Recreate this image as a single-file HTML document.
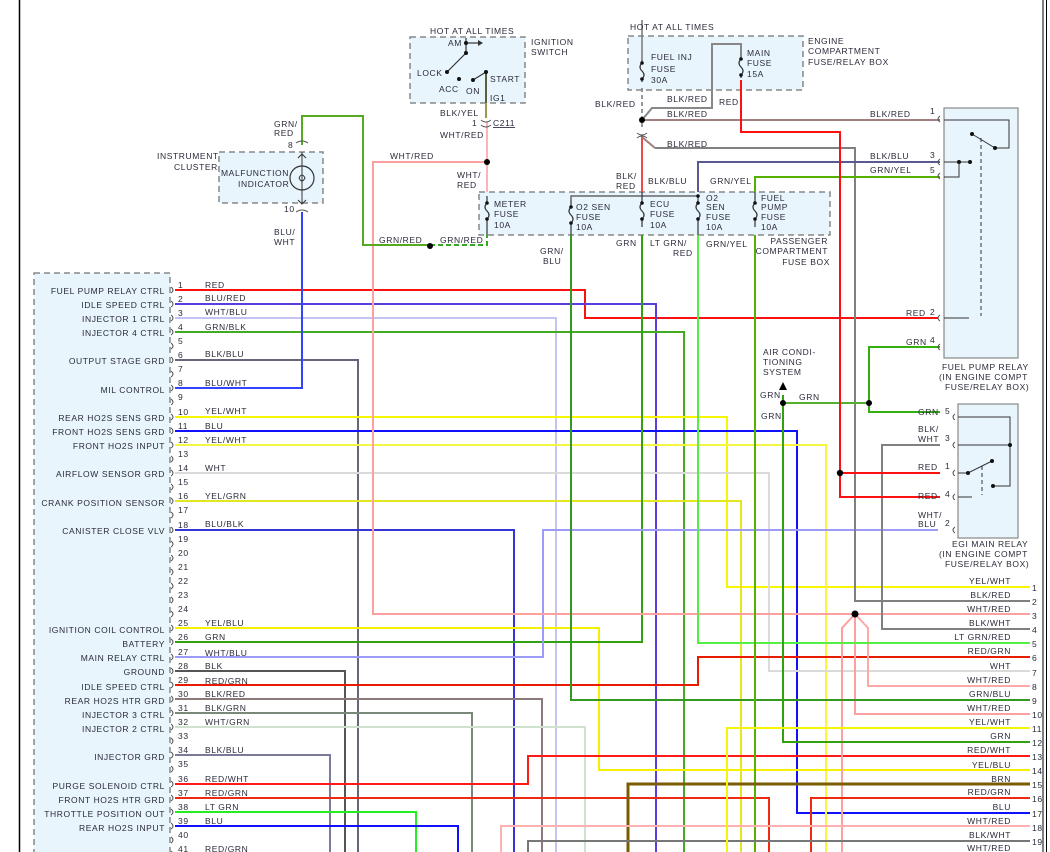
<!DOCTYPE html>
<html><head><meta charset="utf-8"><style>
html,body{margin:0;padding:0;background:#fff;}
svg{display:block;}
text{font-family:"Liberation Sans",sans-serif;font-size:8.5px;fill:#2a2a3a;letter-spacing:0.6px;}
.r{text-anchor:end;}
.box{fill:#e9f5fc;stroke:#888;stroke-width:1.5;stroke-dasharray:6,4;}
.rel{fill:#e9f5fc;stroke:#888;stroke-width:1.2;}
.w{fill:none;stroke-width:2;}
</style></head><body>
<svg width="1050" height="852" viewBox="0 0 1050 852" xmlns="http://www.w3.org/2000/svg">
<rect width="1050" height="852" fill="#fff"/>
<line x1="19.5" y1="0" x2="19.5" y2="852" stroke="#000" stroke-width="1.5"/>
<line x1="1043" y1="0" x2="1043" y2="852" stroke="#000" stroke-width="1"/>
<line x1="1046.5" y1="0" x2="1046.5" y2="852" stroke="#000" stroke-width="1"/>

<!-- boxes -->
<rect class="box" x="34" y="273" width="136" height="590"/>
<rect class="box" x="410" y="37" width="115" height="66"/>
<rect class="box" x="628" y="36" width="175" height="54"/>
<rect class="box" x="479" y="192" width="351" height="43"/>
<rect class="box" x="219" y="152" width="104" height="51"/>
<rect class="rel" x="944" y="108" width="74" height="250"/>
<rect class="rel" x="958" y="404" width="60" height="134"/>

<!-- wires from ECM -->
<g class="w">
<polyline points="175,290 585,290 585,318 938,318" stroke="#ff1010"/>
<polyline points="175,304 656,304 656,852" stroke="#5a3de0"/>
<polyline points="175,318 556,318 556,852" stroke="#c4c4f4"/>
<polyline points="175,332 684,332 684,852" stroke="#44aa22"/>
<polyline points="175,360 358,360 358,852" stroke="#66667a"/>
<polyline points="175,388 302,388 302,212" stroke="#3344ff"/>
<polyline points="175,417 727,417 727,587 1030,587" stroke="#f6f600"/>
<polyline points="175,431 797,431 797,813 1030,813" stroke="#1010ff"/>
<polyline points="175,445 826,445 826,852" stroke="#f6f640"/>
<polyline points="175,473 769,473 769,671 1030,671" stroke="#dadada"/>
<polyline points="175,501 741,501 741,852" stroke="#e6e620"/>
<polyline points="175,530 514,530 514,852" stroke="#3535d5"/>
<polyline points="175,628 599,628 599,770 1030,770" stroke="#f4f000"/>
<polyline points="175,642 642,642 642,235" stroke="#33a010"/>
<polyline points="175,657 543,657 543,530 938,530" stroke="#9c9cf8"/>
<polyline points="175,671 345,671 345,852" stroke="#555"/>
<polyline points="175,685 698,685 698,657 1030,657" stroke="#e81a00"/>
<polyline points="175,699 542,699 542,852" stroke="#8a7a7a"/>
<polyline points="175,713 472,713 472,852" stroke="#7a887a"/>
<polyline points="175,727 585,727 585,852" stroke="#cfe2cf"/>
<polyline points="175,755 330,755 330,852" stroke="#7a7a9a"/>
<polyline points="175,784 528,784 528,756 1030,756" stroke="#ff1a1a"/>
<polyline points="175,798 769,798 769,852" stroke="#ee2a10"/>
<polyline points="175,812 416,812 416,852" stroke="#22ee22"/>
<polyline points="175,826 458,826 458,852" stroke="#1010ff"/>

<!-- top / right wires -->
<polyline points="487,122 487,192" stroke="#ffb4b4"/>
<polyline points="486,72 486,118" stroke="#9a9a50"/>
<polyline points="487,162 373,162 373,614 1030,614" stroke="#ffa0a0"/>
<polyline points="855,614 842,628 842,852" stroke="#ffa0a0"/>
<polyline points="855,614 855,714 1030,714" stroke="#ffa0a0"/>
<polyline points="855,614 868,628 868,686 1030,686" stroke="#ffa8a8"/>
<polyline points="655,148 855,148 855,601 1030,601" stroke="#808080"/>
<polyline points="940,445 882,445 882,629 1030,629" stroke="#808080"/>
<polyline points="698,235 698,643 1030,643" stroke="#55ee44"/>
<polyline points="571,235 571,700 1030,700" stroke="#339920"/>
<polyline points="783,395 783,742 1030,742" stroke="#33a010"/>
<polyline points="783,403 869,403" stroke="#55b030"/>
<polyline points="940,347 869,347 869,412 940,412" stroke="#33b010"/>
<polyline points="755,235 755,852" stroke="#55b000"/>
<polyline points="755,192 755,177 940,177" stroke="#55b000"/>
<polyline points="698,192 698,162 940,162" stroke="#5a5a90"/>
<polyline points="571,200 571,196 698,196 698,200" stroke="#666" stroke-width="1.5"/>
<polyline points="642,135 642,192" stroke="#ee4a4a"/>
<polyline points="642,20 642,60" stroke="#777" stroke-width="1.5"/>
<polyline points="642,88 642,128" stroke="#777" stroke-width="1.5" stroke-dasharray="4,3"/>
<polyline points="642,120 940,120" stroke="#a08080"/>
<polyline points="642,120 652,108 712,108 712,44 741,44 741,55" stroke="#888"/>
<polyline points="642,137 655,148" stroke="#a08080"/>
<polyline points="741,80 741,132 840,132 840,497 940,497" stroke="#ff1010"/>
<polyline points="840,473 940,473" stroke="#ff1010"/>
<polyline points="628,852 628,784 1030,784" stroke="#7a5c00" stroke-width="3"/>
<polyline points="811,852 811,798 1030,798" stroke="#ee2a10"/>
<polyline points="501,852 501,826 1030,826" stroke="#ffb0b0"/>
<polyline points="528,852 528,841 1030,841" stroke="#777"/>
<polyline points="727,852 727,728 1030,728" stroke="#f6f600"/>
<polyline points="302,145 302,116 363,116 363,245 430,245" stroke="#55aa22"/>
<polyline points="430,245 487,245 487,235" stroke="#33aa22" stroke-dasharray="5,3"/>
</g>

<!-- dots -->
<g fill="#000">
<circle cx="487" cy="162" r="3"/><circle cx="642" cy="120" r="3"/><circle cx="430" cy="246" r="3"/>
<circle cx="855" cy="614" r="3.5"/><circle cx="840" cy="473" r="3.2"/><circle cx="869" cy="403" r="3"/>
<circle cx="783" cy="403" r="3"/>
</g>
<polygon points="779,390 787,390 783,382" fill="#000"/>

<!-- ECM pins -->
<g fill="none" stroke="#555" stroke-width="1">
<path d="M171,287 q4,3 0,6 M171,301 q4,3 0,6 M171,315 q4,3 0,6 M171,329 q4,3 0,6 M171,343 q4,3 0,6 M171,357 q4,3 0,6 M171,371 q4,3 0,6 M171,385 q4,3 0,6 M171,399 q4,3 0,6 M171,414 q4,3 0,6 M171,428 q4,3 0,6 M171,442 q4,3 0,6 M171,456 q4,3 0,6 M171,470 q4,3 0,6 M171,484 q4,3 0,6 M171,498 q4,3 0,6 M171,512 q4,3 0,6 M171,527 q4,3 0,6 M171,541 q4,3 0,6 M171,555 q4,3 0,6 M171,569 q4,3 0,6 M171,583 q4,3 0,6 M171,597 q4,3 0,6 M171,611 q4,3 0,6 M171,625 q4,3 0,6 M171,639 q4,3 0,6 M171,654 q4,3 0,6 M171,668 q4,3 0,6 M171,682 q4,3 0,6 M171,696 q4,3 0,6 M171,710 q4,3 0,6 M171,724 q4,3 0,6 M171,738 q4,3 0,6 M171,752 q4,3 0,6 M171,766 q4,3 0,6 M171,781 q4,3 0,6 M171,795 q4,3 0,6 M171,809 q4,3 0,6 M171,823 q4,3 0,6 M171,837 q4,3 0,6 M171,851 q4,3 0,6"/>
<path d="M940,116 q-4,3 0,6 M940,159 q-4,3 0,6 M940,173 q-4,3 0,6 M940,315 q-4,3 0,6 M940,344 q-4,3 0,6 M955,414 q-4,3 0,6 M955,442 q-4,3 0,6 M955,470 q-4,3 0,6 M955,494 q-4,3 0,6 M955,527 q-4,3 0,6"/>
<path d="M481,120 q5,4 10,0 M481,125 q5,4 10,0 M637,133 q5,4 10,0 M637,138 q5,-4 10,0 M296,143 q6,-4 12,0 M296,212 q6,-4 12,0"/>
</g>
<g>
<text x="178" y="288">1</text><text x="178" y="302">2</text><text x="178" y="316">3</text><text x="178" y="330">4</text><text x="178" y="344">5</text><text x="178" y="358">6</text><text x="178" y="372">7</text><text x="178" y="386">8</text><text x="178" y="400">9</text><text x="178" y="415">10</text><text x="178" y="429">11</text><text x="178" y="443">12</text><text x="178" y="457">13</text><text x="178" y="471">14</text><text x="178" y="485">15</text><text x="178" y="499">16</text><text x="178" y="513">17</text><text x="178" y="528">18</text><text x="178" y="542">19</text><text x="178" y="556">20</text><text x="178" y="570">21</text><text x="178" y="584">22</text><text x="178" y="598">23</text><text x="178" y="612">24</text><text x="178" y="626">25</text><text x="178" y="640">26</text><text x="178" y="655">27</text><text x="178" y="669">28</text><text x="178" y="683">29</text><text x="178" y="697">30</text><text x="178" y="711">31</text><text x="178" y="725">32</text><text x="178" y="739">33</text><text x="178" y="753">34</text><text x="178" y="767">35</text><text x="178" y="782">36</text><text x="178" y="796">37</text><text x="178" y="810">38</text><text x="178" y="824">39</text><text x="178" y="838">40</text><text x="178" y="852">41</text>
</g>
<g>
<text x="205" y="288">RED</text><text x="205" y="301">BLU/RED</text><text x="205" y="315">WHT/BLU</text><text x="205" y="330">GRN/BLK</text><text x="205" y="357">BLK/BLU</text><text x="205" y="386">BLU/WHT</text><text x="205" y="414">YEL/WHT</text><text x="205" y="429">BLU</text><text x="205" y="443">YEL/WHT</text><text x="205" y="471">WHT</text><text x="205" y="499">YEL/GRN</text><text x="205" y="527">BLU/BLK</text><text x="205" y="626">YEL/BLU</text><text x="205" y="640">GRN</text><text x="205" y="656">WHT/BLU</text><text x="205" y="669">BLK</text><text x="205" y="684">RED/GRN</text><text x="205" y="697">BLK/RED</text><text x="205" y="711">BLK/GRN</text><text x="205" y="725">WHT/GRN</text><text x="205" y="753">BLK/BLU</text><text x="205" y="782">RED/WHT</text><text x="205" y="796">RED/GRN</text><text x="205" y="810">LT GRN</text><text x="205" y="824">BLU</text><text x="205" y="852">RED/GRN</text>
</g>
<g class="r">
<text class="r" x="165" y="294">FUEL PUMP RELAY CTRL</text><text class="r" x="165" y="308">IDLE SPEED CTRL</text><text class="r" x="165" y="322">INJECTOR 1 CTRL</text><text class="r" x="165" y="336">INJECTOR 4 CTRL</text><text class="r" x="165" y="364">OUTPUT STAGE GRD</text><text class="r" x="165" y="393">MIL CONTROL</text><text class="r" x="165" y="421">REAR HO2S SENS GRD</text><text class="r" x="165" y="435">FRONT HO2S SENS GRD</text><text class="r" x="165" y="449">FRONT HO2S INPUT</text><text class="r" x="165" y="477">AIRFLOW SENSOR GRD</text><text class="r" x="165" y="506">CRANK POSITION SENSOR</text><text class="r" x="165" y="534">CANISTER CLOSE VLV</text><text class="r" x="165" y="633">IGNITION COIL CONTROL</text><text class="r" x="165" y="647">BATTERY</text><text class="r" x="165" y="661">MAIN RELAY CTRL</text><text class="r" x="165" y="675">GROUND</text><text class="r" x="165" y="690">IDLE SPEED CTRL</text><text class="r" x="165" y="704">REAR HO2S HTR GRD</text><text class="r" x="165" y="718">INJECTOR 3 CTRL</text><text class="r" x="165" y="732">INJECTOR 2 CTRL</text><text class="r" x="165" y="760">INJECTOR GRD</text><text class="r" x="165" y="789">PURGE SOLENOID CTRL</text><text class="r" x="165" y="803">FRONT HO2S HTR GRD</text><text class="r" x="165" y="817">THROTTLE POSITION OUT</text><text class="r" x="165" y="831">REAR HO2S INPUT</text>
</g>

<!-- right connector -->
<g>
<text class="r" x="1011" y="584">YEL/WHT</text><text class="r" x="1011" y="598">BLK/RED</text><text class="r" x="1011" y="612">WHT/RED</text><text class="r" x="1011" y="626">BLK/WHT</text><text class="r" x="1011" y="640">LT GRN/RED</text><text class="r" x="1011" y="654">RED/GRN</text><text class="r" x="1011" y="669">WHT</text><text class="r" x="1011" y="683">WHT/RED</text><text class="r" x="1011" y="697">GRN/BLU</text><text class="r" x="1011" y="711">WHT/RED</text><text class="r" x="1011" y="725">YEL/WHT</text><text class="r" x="1011" y="739">GRN</text><text class="r" x="1011" y="753">RED/WHT</text><text class="r" x="1011" y="768">YEL/BLU</text><text class="r" x="1011" y="782">BRN</text><text class="r" x="1011" y="795">RED/GRN</text><text class="r" x="1011" y="810">BLU</text><text class="r" x="1011" y="824">WHT/RED</text><text class="r" x="1011" y="838">BLK/WHT</text><text class="r" x="1011" y="851">WHT/RED</text>
<text x="1032" y="591">1</text><text x="1032" y="605">2</text><text x="1032" y="619">3</text><text x="1032" y="633">4</text><text x="1032" y="647">5</text><text x="1032" y="661">6</text><text x="1032" y="676">7</text><text x="1032" y="690">8</text><text x="1032" y="704">9</text><text x="1032" y="718">10</text><text x="1032" y="732">11</text><text x="1032" y="746">12</text><text x="1032" y="760">13</text><text x="1032" y="774">14</text><text x="1032" y="788">15</text><text x="1032" y="802">16</text><text x="1032" y="817">17</text><text x="1032" y="831">18</text><text x="1032" y="845">19</text>
</g>

<!-- ignition switch -->
<g stroke="#333" stroke-width="1.2" fill="none">
<polyline points="466,38 466,53 447,72"/><line x1="466" y1="43" x2="478" y2="43"/>
<line x1="473" y1="80" x2="486" y2="72"/><line x1="486" y1="72" x2="486" y2="103"/>
</g>
<polygon points="478,40 483,43 478,46" fill="#333"/>
<g fill="#111"><circle cx="466" cy="43" r="2"/><circle cx="466" cy="53" r="2"/><circle cx="447" cy="72" r="2"/><circle cx="459" cy="79" r="2"/><circle cx="473" cy="80" r="2"/><circle cx="486" cy="72" r="2"/></g>
<text x="430" y="34">HOT AT ALL TIMES</text><text x="531" y="45">IGNITION</text><text x="531" y="55">SWITCH</text>
<text x="448" y="46">AM</text><text x="417" y="76">LOCK</text><text x="439" y="92">ACC</text><text x="466" y="94">ON</text><text x="490" y="82">START</text><text x="490" y="101">IG1</text>
<text x="440" y="116">BLK/YEL</text><text x="472" y="126">1</text><text x="493" y="126" text-decoration="underline">C211</text><text x="440" y="138">WHT/RED</text>
<text x="390" y="159">WHT/RED</text><text x="457" y="178">WHT/</text><text x="457" y="188">RED</text>

<!-- engine box -->
<text x="630" y="30">HOT AT ALL TIMES</text><text x="808" y="44">ENGINE</text><text x="808" y="54">COMPARTMENT</text><text x="808" y="65">FUSE/RELAY BOX</text>
<text x="651" y="60">FUEL INJ</text><text x="651" y="72">FUSE</text><text x="651" y="83">30A</text>
<text x="747" y="56">MAIN</text><text x="747" y="66">FUSE</text><text x="747" y="77">15A</text>
<text x="595" y="107">BLK/RED</text><text x="667" y="102">BLK/RED</text><text x="719" y="105">RED</text><text x="667" y="117">BLK/RED</text><text x="667" y="147">BLK/RED</text>
<text x="616" y="179">BLK/</text><text x="616" y="189">RED</text><text x="648" y="184">BLK/BLU</text><text x="710" y="184">GRN/YEL</text>

<!-- fuses -->
<g fill="none" stroke="#333" stroke-width="1.2">
<path d="M642,60 v3 q-4,4 0,8 q4,4 0,8 v3 M741,55 v4 q-4,4 0,8 q4,4 0,8 v3 M487,196 v7 q-4,4 0,8 q4,4 0,8 v16 M571,200 v7 q-4,4 0,8 q4,4 0,8 v12 M642,192 v11 q-4,4 0,8 q4,4 0,8 v8 M698,200 v3 q-4,4 0,8 q4,4 0,8 v16 M755,192 v11 q-4,4 0,8 q4,4 0,8 v8"/>
</g>
<g fill="#111"><circle cx="642" cy="63" r="1.8"/><circle cx="642" cy="79" r="1.8"/><circle cx="741" cy="59" r="1.8"/><circle cx="741" cy="75" r="1.8"/>
<circle cx="487" cy="203" r="1.8"/><circle cx="487" cy="219" r="1.8"/><circle cx="571" cy="207" r="1.8"/><circle cx="571" cy="223" r="1.8"/><circle cx="642" cy="203" r="1.8"/><circle cx="642" cy="219" r="1.8"/><circle cx="698" cy="196" r="1.8"/><circle cx="698" cy="203" r="1.8"/><circle cx="698" cy="219" r="1.8"/><circle cx="755" cy="203" r="1.8"/><circle cx="755" cy="219" r="1.8"/></g>
<text x="494" y="207">METER</text><text x="494" y="217">FUSE</text><text x="494" y="228">10A</text>
<text x="576" y="210">O2 SEN</text><text x="576" y="220">FUSE</text><text x="576" y="230">10A</text>
<text x="650" y="207">ECU</text><text x="650" y="217">FUSE</text><text x="650" y="228">10A</text>
<text x="706" y="201">O2</text><text x="706" y="210">SEN</text><text x="706" y="220">FUSE</text><text x="706" y="230">10A</text>
<text x="761" y="201">FUEL</text><text x="761" y="210">PUMP</text><text x="761" y="220">FUSE</text><text x="761" y="230">10A</text>
<text class="r" x="828" y="244">PASSENGER</text><text class="r" x="828" y="254">COMPARTMENT</text><text class="r" x="830" y="265">FUSE BOX</text>
<text x="540" y="254">GRN/</text><text x="543" y="264">BLU</text><text x="616" y="246">GRN</text><text x="650" y="246">LT GRN/</text><text x="673" y="256">RED</text><text x="706" y="247">GRN/YEL</text>

<!-- instrument cluster -->
<circle cx="302" cy="178" r="12" fill="none" stroke="#333" stroke-width="1.2"/>
<path d="M302,152 v52 M298,158 l4,-4 4,4 M298,200 l4,4 4,-4 M299,178 q3,-6 6,0 q-3,6 -6,0" fill="none" stroke="#333" stroke-width="1"/>
<text x="157" y="159">INSTRUMENT</text><text x="174" y="170">CLUSTER</text>
<text x="221" y="176">MALFUNCTION</text><text x="238" y="187">INDICATOR</text>
<text x="274" y="127">GRN/</text><text x="274" y="136">RED</text><text x="288" y="148">8</text><text x="284" y="212">10</text>
<text x="274" y="235">BLU/</text><text x="274" y="245">WHT</text>
<text x="379" y="243">GRN/RED</text><text x="440" y="243">GRN/RED</text>

<!-- fuel pump relay -->
<g stroke="#333" stroke-width="1" fill="none">
<polyline points="944,120 1009,120 1009,148 995,148 972,134"/>
<polyline points="944,162 970,162"/><polyline points="944,177 959,177 959,162"/>
<line x1="981" y1="138" x2="981" y2="316" stroke-dasharray="4,3"/>
<polyline points="944,318 969,318 q4,-6 8,0 q4,-6 8,0 q4,-6 8,0 l16,0 1009,318 1009,347 944,347"/>
<polyline points="958,417 1010,417 1010,445 958,445"/>
<polyline points="958,473 968,473 992,461"/><polyline points="1010,445 1010,486 993,486"/>
<line x1="982" y1="466" x2="982" y2="495" stroke-dasharray="4,3"/>
<polyline points="958,497 972,497 q4,-6 8,0 q4,-6 8,0 q4,-6 8,0 l14,0 1010,497 1010,530 958,530"/>
</g>
<g fill="#111"><circle cx="959" cy="162" r="2"/><circle cx="970" cy="162" r="2"/><circle cx="972" cy="134" r="2"/><circle cx="995" cy="148" r="2"/><circle cx="1010" cy="445" r="2"/><circle cx="968" cy="473" r="2"/><circle cx="992" cy="461" r="2"/><circle cx="993" cy="486" r="2"/></g>
<text x="870" y="117">BLK/RED</text><text x="930" y="114">1</text>
<text x="870" y="159">BLK/BLU</text><text x="930" y="158">3</text>
<text x="870" y="173">GRN/YEL</text><text x="930" y="173">5</text>
<text x="906" y="316">RED</text><text x="930" y="315">2</text>
<text x="906" y="345">GRN</text><text x="930" y="343">4</text>
<text x="942" y="370">FUEL PUMP RELAY</text><text x="939" y="380">(IN ENGINE COMPT</text><text x="945" y="390">FUSE/RELAY BOX)</text>
<text x="918" y="415">GRN</text><text x="945" y="414">5</text>
<text x="918" y="432">BLK/</text><text x="918" y="442">WHT</text><text x="945" y="441">3</text>
<text x="918" y="470">RED</text><text x="945" y="469">1</text>
<text x="918" y="499">RED</text><text x="945" y="497">4</text>
<text x="918" y="518">WHT/</text><text x="918" y="527">BLU</text><text x="945" y="526">2</text>
<text x="952" y="547">EGI MAIN RELAY</text><text x="939" y="557">(IN ENGINE COMPT</text><text x="945" y="567">FUSE/RELAY BOX)</text>

<!-- AC -->
<text x="763" y="355">AIR CONDI-</text><text x="763" y="365">TIONING</text><text x="763" y="375">SYSTEM</text>
<text x="760" y="398">GRN</text><text x="799" y="400">GRN</text><text x="761" y="419">GRN</text>
</svg>
</body></html>
